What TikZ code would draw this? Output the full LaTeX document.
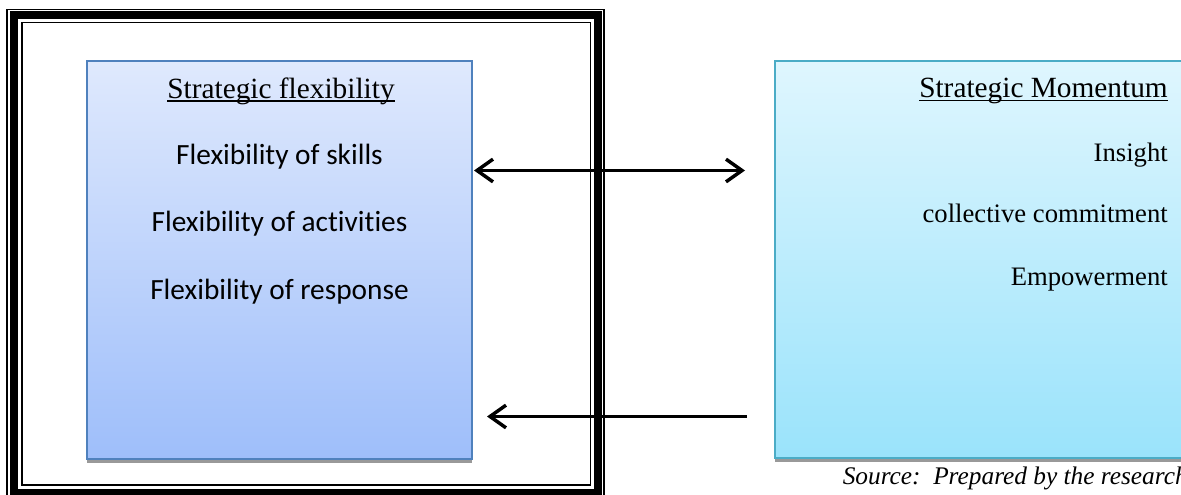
\documentclass[tikz,border=0pt]{standalone}
\usepackage{fontspec}
\setmainfont{Liberation Serif}
\newfontfamily\calibrifont[Ligatures=NoCommon]{Carlito}
\usepackage{tikz}
\usetikzlibrary{arrows.meta,shadows}
\definecolor{flexline}{RGB}{79,129,189}
\definecolor{flextop}{RGB}{223,233,253}
\definecolor{flexbottom}{RGB}{158,190,250}
\definecolor{momline}{RGB}{75,172,198}
\definecolor{momtop}{RGB}{223,246,254}
\definecolor{mombottom}{RGB}{154,227,251}
\newcommand\wordul[1]{\setbox0\hbox{#1}\rlap{\rule[-2.6pt]{\wd0}{1.1pt}}\box0}
\tikzstyle{flexbox}=[draw=flexline,line width=1.5pt,top color=flextop,bottom color=flexbottom,minimum width=288.75pt,minimum height=298.5pt,drop shadow={shadow xshift=0pt,shadow yshift=-3pt,fill=black!40,opacity=1}]
\tikzstyle{mombox}=[draw=momline,line width=1.5pt,top color=momtop,bottom color=mombottom,minimum width=311.25pt,minimum height=297.75pt,drop shadow={shadow xshift=0pt,shadow yshift=-3pt,fill=black!40,opacity=1}]
\tikzstyle{title}=[anchor=base,inner sep=0pt,font=\fontsize{22}{26}\selectfont]
\tikzstyle{item}=[anchor=base,inner sep=0pt,font=\calibrifont\fontsize{22}{26}\selectfont]
\tikzstyle{mitem}=[anchor=base east,inner sep=0pt,font=\fontsize{20}{24}\selectfont]
\tikzstyle{line} = [draw, line width=2.6pt, -{Straight Barb[length=12pt,width=17pt,line width=2.6pt]}]

\begin{document}
\begin{tikzpicture}[x=0.75pt,y=-0.75pt]
  \useasboundingbox (0,0) rectangle (1181,495);
  \clip (0,0) rectangle (1181,495);
  % frame
  \draw[line width=1.1pt] (7,9.5) rectangle (604,520);
  \draw[line width=6pt] (13.5,15.5) rectangle (598,493);
  \draw[line width=1.1pt] (22,22.5) rectangle (590.5,485);

  % boxes
  \node[flexbox] (flex) at (279.5,260) {};
  \node[mombox] (mom) at (982,259.5) {};

  \node[title] (flextitle) at (281,98.5) {\wordul{Strategic flexibility}};
  \node[item] (skills) at (279.5,165) {Flexibility of skills};
  \node[item] (activities) at (279.5,232) {Flexibility of activities};
  \node[item] (response) at (279.5,300) {Flexibility of response};

  \node[title,anchor=base east] (momtitle) at (1168,98) {\wordul{Strategic Momentum}};
  \node[mitem] (insight) at (1168,162) {Insight};
  \node[mitem] (commitment) at (1168,223) {collective commitment};
  \node[mitem] (empower) at (1168,286) {Empowerment};

  \node[anchor=base west,inner sep=0pt,font=\itshape\fontsize{19}{22}\selectfont] (source) at (842.5,484) {Source:\ \ Prepared by the researcher};

  % arrows
  \coordinate (topL) at (474,170.5);
  \coordinate (topR) at (745,170.5);
  \coordinate (lowR) at (747,416.5);
  \coordinate (lowL) at (487,416.5);
  \path [line,{Straight Barb[length=12pt,width=17pt,line width=2.6pt]}-{Straight Barb[length=12pt,width=17pt,line width=2.6pt]}] (topL) -- (topR);
  \path [line] (lowR) -- (lowL);
\end{tikzpicture}
\end{document}
